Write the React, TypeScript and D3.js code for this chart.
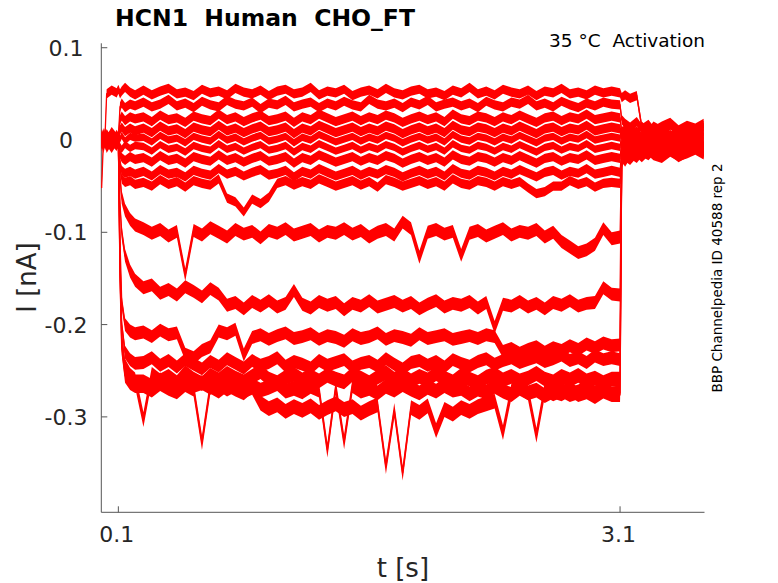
import { useEffect, useRef } from "react";
import * as d3 from "d3";

// sample times (s) shared by every sweep
const timeS = [
  0, 0.01, 0.02, 0.03, 0.06, 0.09,
  0.1, 0.11, 0.12, 0.14, 0.17, 0.2,
  0.25, 0.3, 0.35, 0.4, 0.45, 0.5, 0.55, 0.6, 0.65, 0.7,
  0.75, 0.8, 0.85, 0.9, 0.95, 1.0, 1.05, 1.1, 1.15, 1.2,
  1.25, 1.3, 1.35, 1.4, 1.45, 1.5, 1.55, 1.6, 1.65, 1.7,
  1.75, 1.8, 1.85, 1.9, 1.95, 2.0, 2.05, 2.1, 2.15, 2.2,
  2.25, 2.3, 2.35, 2.4, 2.45, 2.5, 2.55, 2.6, 2.65, 2.7,
  2.75, 2.8, 2.85, 2.9, 2.95, 3.0, 3.05,
  3.1, 3.11, 3.13, 3.16, 3.2, 3.23, 3.27, 3.3, 3.35, 3.4, 3.45, 3.5, 3.55, 3.6,
];

// currents in pA, one array per sweep
const trace01 = [
  2, -4, 3, 50, 54, 51,
  55, 50, 53, 57, 52, 49,
  54, 49, 53, 56, 50, 52, 48, 55, 51, 53,
  49, 56, 52, 50, 54, 48, 53, 55, 50, 52,
  57, 49, 53, 51, 55, 48, 52, 54, 50, 56,
  51, 49, 53, 55, 50, 52, 48, 54, 51, 57,
  50, 53, 49, 55, 52, 50, 54, 48, 53, 51,
  56, 50, 52, 49, 54, 51, 53,
  51, 46, 49, 45, 48, 14, 8, 15, 10, 17, 9, 14, 11, 16,
];
const trace02 = [
  -3, 5, -2, 4, -5, 2,
  3, 36, 40, 35, 39, 37,
  41, 36, 39, 44, 37, 40, 35, 42, 38, 36,
  43, 39, 37, 41, 34, 40, 38, 43, 36, 39,
  41, 35, 40, 37, 42, 38, 36, 44, 39, 37,
  40, 35, 41, 38, 43, 36, 39, 41, 37, 40,
  35, 42, 38, 36, 41, 39, 44, 37, 40, 36,
  42, 38, 35, 40, 37, 41, 39,
  38, 22, 18, 14, 20, 12, 17, 10, 15, 19, 11, 16, 13, 18,
];
const trace03 = [
  4, -6, 7, -2, 5, -4,
  1, 22, 26, 21, 25, 23,
  25, 20, 27, 22, 24, 19, 26, 23, 21, 28,
  22, 25, 20, 24, 27, 21, 23, 26, 19, 25,
  22, 28, 24, 20, 23, 26, 21, 25, 22, 27,
  24, 19, 23, 26, 22, 25, 20, 28, 23, 21,
  26, 24, 20, 25, 22, 27, 23, 19, 24, 26,
  21, 25, 23, 28, 22, 24, 26,
  24, 8, 12, 5, 10, 3, 9, 6, 11, 4, 8, 13, 7, 10,
];
const trace04 = [
  -5, 3, -1, 6, -3, 4,
  -2, 11, 14, 9, 13, 10,
  13, 8, 15, 10, 12, 7, 14, 11, 9, 16,
  10, 13, 8, 12, 15, 9, 11, 14, 7, 13,
  10, 16, 12, 8, 11, 14, 9, 13, 10, 15,
  12, 7, 11, 14, 10, 13, 8, 16, 11, 9,
  14, 12, 8, 13, 10, 15, 11, 7, 12, 14,
  9, 13, 11, 16, 10, 12, 14,
  12, 4, 9, 2, 7, 0, 6, 3, 8, 1, 5, 10, 4, 7,
];
const trace05 = [
  6, -2, 4, -5, 1, -3,
  3, 1, 5, -1, 4, 2,
  3, -2, 5, 0, 2, -3, 4, 1, -1, 6,
  0, 3, -2, 2, 5, -1, 1, 4, -3, 3,
  0, 6, 2, -2, 1, 4, -1, 3, 0, 5,
  2, -3, 1, 4, 0, 3, -2, 6, 1, -1,
  4, 2, -2, 3, 0, 5, 1, -3, 2, 4,
  -1, 3, 1, 6, 0, 2, 4,
  2, 12, 6, 14, 8, 16, 9, 13, 7, 15, 10, 12, 8, 14,
];
const trace06 = [
  -2, 5, -6, 2, -4, 3,
  -1, -7, -10, -5, -9, -6,
  -7, -12, -5, -10, -8, -13, -6, -9, -11, -4,
  -10, -7, -12, -8, -5, -11, -9, -6, -13, -7,
  -10, -4, -8, -12, -9, -6, -11, -7, -10, -5,
  -8, -13, -9, -6, -10, -7, -12, -4, -9, -11,
  -6, -8, -12, -7, -10, -5, -9, -13, -8, -6,
  -11, -7, -9, -4, -10, -8, -6,
  -8, 6, 2, 8, 0, 5, -2, 4, 1, 7, -1, 3, 0, 5,
];
const trace07 = [
  3, -3, 5, -1, 2, -5,
  0, -15, -19, -22, -18, -21,
  -19, -24, -17, -22, -20, -25, -18, -21, -23, -16,
  -22, -19, -24, -20, -17, -23, -21, -18, -25, -19,
  -22, -16, -20, -24, -21, -18, -23, -19, -22, -17,
  -20, -25, -21, -18, -22, -19, -24, -16, -21, -23,
  -18, -20, -24, -19, -22, -17, -21, -25, -20, -18,
  -23, -19, -21, -16, -22, -20, -18,
  -20, -2, -6, 0, -4, 3, -5, -1, -3, 2, -6, -2, 1, -4,
];
const trace08 = [
  -4, 2, -1, 4, -6, 1,
  -3, -25, -33, -36, -34, -37,
  -34, -39, -32, -37, -35, -40, -33, -36, -38, -31,
  -37, -34, -39, -35, -32, -38, -36, -33, -40, -34,
  -37, -31, -35, -39, -36, -33, -38, -34, -37, -32,
  -35, -40, -36, -33, -37, -34, -39, -31, -36, -38,
  -33, -35, -39, -34, -37, -32, -36, -40, -35, -33,
  -38, -34, -36, -31, -37, -35, -33,
  -35, -10, -14, -7, -12, -5, -11, -8, -13, -6, -10, -4, -9, -7,
];
const trace09 = [
  -52, -4, 3, -2, 4, -4,
  2, -30, -42, -46, -44, -48,
  -46, -50, -43, -48, -45, -51, -44, -47, -49, -42,
  -63, -67, -78, -64, -69, -62, -47, -44, -49, -45,
  -48, -42, -46, -50, -47, -44, -49, -45, -51, -43,
  -46, -50, -47, -44, -48, -45, -50, -42, -47, -49,
  -44, -46, -50, -45, -48, -45, -52, -58, -56, -50,
  -50, -44, -48, -45, -51, -47, -46,
  -47, -18, -24, -15, -20, -13, -17, -11, -16, -12, -19, -14, -10, -15,
];
const trace10 = [
  3, -4, 2, -1, 5, -3,
  -2, -40, -62, -76, -86, -92,
  -96, -101, -97, -104, -99, -146, -98, -103, -95, -100,
  -105, -97, -102, -99, -106, -98, -101, -96, -103, -100,
  -97, -104, -99, -101, -96, -102, -98, -105, -100, -97,
  -103, -89, -96, -127, -100, -97, -102, -99, -125, -101,
  -98, -104, -100, -96, -103, -99, -101, -97, -105, -100,
  -110, -116, -122, -119, -113, -96, -107,
  -105, -12, -4, -9, -2, -7, 0, -5, -8, -3, -6, -1, -7, -4,
];
const trace11 = [
  -3, 4, -2, 1, -5, 2,
  0, -70, -100, -125, -142, -152,
  -160, -157, -166, -162, -168, -159, -164, -170, -161, -167,
  -179, -176, -183, -175, -180, -174, -181, -177, -163, -178,
  -182, -175, -179, -176, -184, -177, -180, -174, -181, -178,
  -175, -180, -176, -183, -178, -174, -181, -177, -179, -175,
  -182, -176, -203, -178, -180, -175, -181, -177, -183, -176,
  -179, -174, -180, -177, -176, -160, -167,
  -168, -14, -8, -11, -5, -9, -3, -7, -10, -4, -8, -2, -6, -9,
];
const trace12 = [
  4, -2, 6, -3, 1, -5,
  0, -110, -175, -200, -207, -210,
  -208, -213, -206, -211, -209, -232, -236, -228, -224, -207,
  -210, -205, -233, -214, -211, -216, -212, -209, -215, -213,
  -210, -216, -212, -214, -218, -211, -215, -213, -209, -216,
  -212, -214, -217, -210, -215, -213, -211, -216, -214, -212,
  -215, -211, -213, -229, -226, -231, -227, -224, -230, -225,
  -228, -223, -227, -221, -225, -220, -223,
  -222, -16, -10, -13, -7, -12, -5, -9, -14, -6, -11, -8, -4, -10,
];
const trace13 = [
  -6, 3, -1, 5, -4, 0,
  -1, -130, -200, -230, -238, -242,
  -241, -236, -244, -239, -246, -238, -243, -248, -240, -245,
  -237, -242, -247, -239, -244, -241, -236, -245, -240, -243,
  -247, -239, -244, -241, -238, -246, -242, -240, -245, -237,
  -243, -248, -241, -239, -244, -240, -246, -238, -242, -245,
  -240, -237, -243, -239, -236, -241, -238, -235, -240, -237,
  -233, -239, -236, -241, -234, -238, -236,
  -238, -20, -13, -16, -9, -14, -7, -12, -15, -8, -13, -10, -6, -11,
];
const trace14 = [
  1, -6, 4, -3, 6, -1,
  2, -140, -215, -245, -255, -260,
  -303, -254, -261, -256, -263, -252, -259, -264, -255, -260,
  -253, -258, -262, -256, -251, -259, -263, -257, -254, -260,
  -256, -261, -255, -259, -262, -254, -258, -263, -257, -252,
  -259, -255, -261, -256, -260, -253, -258, -262, -255, -259,
  -263, -257, -254, -260, -256, -261, -258, -253, -259, -262,
  -256, -260, -255, -261, -258, -263, -259,
  -259, -8, -2, -6, 1, -4, 3, -3, -6, 0, -5, 2, -2, -4,
];
const trace15 = [
  -2, 5, -4, 2, -6, 3,
  0, -150, -225, -255, -263, -266,
  -266, -271, -264, -269, -273, -265, -270, -328, -267, -272,
  -265, -270, -274, -266, -271, -268, -264, -272, -269, -273,
  -267, -271, -336, -268, -327, -266, -272, -269, -274, -267,
  -271, -265, -270, -274, -268, -272, -266, -271, -269, -275,
  -270, -273, -267, -272, -276, -269, -274, -271, -277, -272,
  -275, -270, -276, -273, -278, -272, -276,
  -276, -18, -12, -15, -8, -13, -6, -11, -14, -7, -12, -9, -5, -10,
];
const trace16 = [
  5, -3, 1, -6, 3, -2,
  1, -145, -220, -250, -258, -262,
  -262, -267, -260, -265, -269, -261, -266, -263, -268, -264,
  -270, -265, -272, -268, -285, -291, -287, -294, -289, -293,
  -288, -295, -290, -286, -292, -289, -296, -291, -287, -354,
  -293, -361, -290, -295, -288, -315, -292, -297, -290, -294,
  -289, -286, -283, -317, -272, -268, -274, -320, -270, -275,
  -271, -276, -273, -269, -274, -270, -275,
  -274, -22, -15, -19, -11, -16, -9, -14, -17, -10, -15, -12, -8, -13,
];

const traces = [
  trace16, trace15, trace14, trace13, trace12, trace11, trace10, trace09,
  trace08, trace07, trace06, trace05, trace04, trace03, trace02, trace01,
];
// half-width of the recording noise around each sweep (pA), same order
const noisePA = [8, 8, 8, 7, 7, 7, 7, 5, 5, 5, 4, 4, 5, 5, 5, 5];

const xTicks = [0.1, 3.1];
const yTicks = [0.1, 0, -0.1, -0.2, -0.3];

const width = 778;
const height = 583;
const font = "DejaVu Sans, sans-serif";
const ink = "#262626";

export default function App() {
  const ref = useRef<SVGSVGElement>(null);

  useEffect(() => {
    const svg = d3.select(ref.current);
    svg.selectAll("*").remove();

    const xScale = d3.scaleLinear().domain([-0.002, 3.605]).range([101.3, 704.5]);
    const yScale = d3.scaleLinear().domain([-0.4034, 0.1048]).range([512.3, 43.3]);
    const [x0, x1] = xScale.range();
    const [y0, y1] = yScale.range();

    const axes = svg.append("g").attr("stroke", "#555").attr("stroke-width", 1);
    axes.append("line").attr("x1", x0).attr("x2", x0).attr("y1", y0).attr("y2", y1);
    axes.append("line").attr("x1", x0).attr("x2", x1).attr("y1", y0).attr("y2", y0);

    axes
      .selectAll("line.xt")
      .data(xTicks)
      .join("line")
      .attr("class", "xt")
      .attr("x1", (d) => xScale(d))
      .attr("x2", (d) => xScale(d))
      .attr("y1", y0)
      .attr("y2", y0 - 6);

    axes
      .selectAll("line.yt")
      .data(yTicks)
      .join("line")
      .attr("class", "yt")
      .attr("x1", x0)
      .attr("x2", x0 + 6)
      .attr("y1", (d) => yScale(d))
      .attr("y2", (d) => yScale(d));

    svg
      .append("g")
      .selectAll("text")
      .data(xTicks)
      .join("text")
      .attr("x", (d) => xScale(d) - 1.5)
      .attr("y", 542.3)
      .attr("text-anchor", "middle")
      .attr("font-family", font)
      .attr("font-size", 22)
      .attr("fill", ink)
      .text((d) => String(d));

    svg
      .append("g")
      .selectAll("text")
      .data(yTicks)
      .join("text")
      .attr("x", 66)
      .attr("y", (d) => yScale(d) + 8)
      .attr("text-anchor", "middle")
      .attr("font-family", font)
      .attr("font-size", 22)
      .attr("fill", ink)
      .text((d) => String(d));

    const sweeps = traces.map((values, k) => ({ values, noise: noisePA[k] }));

    const line = d3
      .line<number>()
      .x((_, i) => xScale(timeS[i]))
      .y((v) => yScale(v / 1000));

    const plot = svg.append("g");

    // noise envelope of every sweep
    plot
      .selectAll("path.band")
      .data(sweeps)
      .join("path")
      .attr("class", "band")
      .attr("d", ({ values, noise }) =>
        d3
          .area<number>()
          .x((_, i) => xScale(timeS[i]))
          .y0((v) => yScale((v - noise) / 1000))
          .y1((v) => yScale((v + noise) / 1000))(values),
      )
      .attr("fill", "#ff0000");

    plot
      .selectAll("path.trace")
      .data(sweeps)
      .join("path")
      .attr("class", "trace")
      .attr("d", ({ values }) => line(values))
      .attr("fill", "none")
      .attr("stroke", "#ff0000")
      .attr("stroke-width", 1.3);

    svg
      .append("text")
      .attr("x", 265)
      .attr("y", 26)
      .attr("text-anchor", "middle")
      .attr("font-family", font)
      .attr("font-size", 23.5)
      .attr("font-weight", "bold")
      .attr("fill", "#000")
      .style("white-space", "pre")
      .text("HCN1  Human  CHO_FT");

    svg
      .append("text")
      .attr("x", 705)
      .attr("y", 47)
      .attr("text-anchor", "end")
      .attr("font-family", font)
      .attr("font-size", 18.5)
      .attr("fill", "#000")
      .style("white-space", "pre")
      .text("35 °C  Activation");

    svg
      .append("text")
      .attr("transform", "translate(722,278) rotate(-90)")
      .attr("text-anchor", "middle")
      .attr("font-family", font)
      .attr("font-size", 13.5)
      .attr("fill", "#000")
      .text("BBP Channelpedia ID 40588 rep 2");

    svg
      .append("text")
      .attr("transform", "translate(36,277.5) rotate(-90)")
      .attr("text-anchor", "middle")
      .attr("font-family", font)
      .attr("font-size", 26)
      .attr("fill", ink)
      .text("I [nA]");

    svg
      .append("text")
      .attr("x", (x0 + x1) / 2)
      .attr("y", 576.5)
      .attr("text-anchor", "middle")
      .attr("font-family", font)
      .attr("font-size", 26)
      .attr("fill", ink)
      .text("t [s]");
  }, []);

  return (
    <svg
      ref={ref}
      width={width}
      height={height}
      style={{ position: "absolute", left: 0, top: 0, background: "#fff" }}
    />
  );
}
